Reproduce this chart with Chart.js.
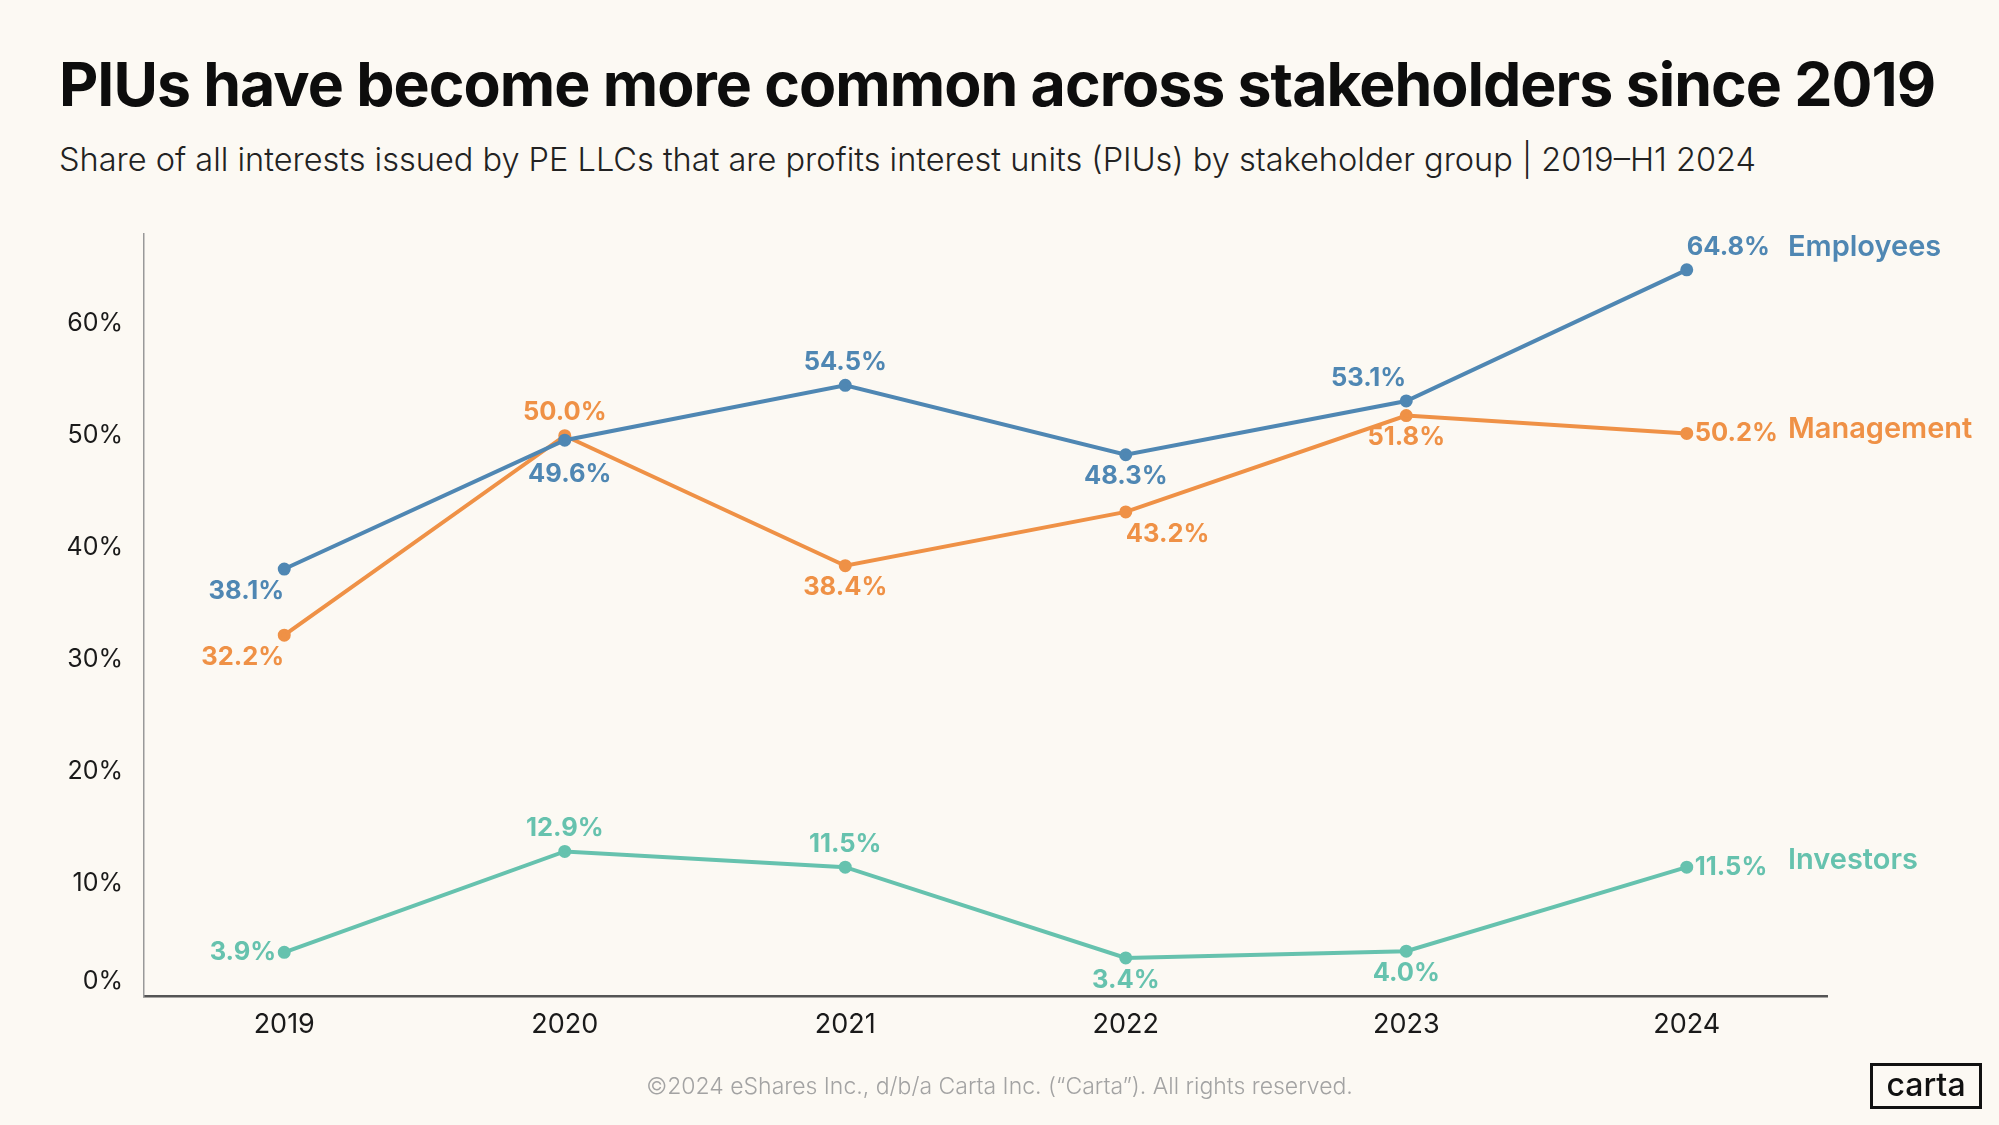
<!DOCTYPE html>
<html>
<head>
<meta charset="utf-8">
<script src="https://cdn.jsdelivr.net/npm/chart.js@4.4.1/dist/chart.umd.min.js"></script>
<style>
  html, body { margin: 0; padding: 0; background: #fcf9f3; }
  body { width: 1999px; height: 1125px; position: relative; overflow: hidden; font-family: Inter, Lato, sans-serif; }
  #title { position: absolute; left: 59px; top: 47px; font-weight: 700; font-size: 64px; color: #0d0d0d; white-space: nowrap; letter-spacing: -1px; }
  #subtitle { position: absolute; left: 59px; top: 139px; font-weight: 300; font-size: 34px; color: #222; white-space: nowrap; }
  #wrap { position: absolute; left: 0; top: 0; width: 1999px; height: 1125px; }
  #footer { position: absolute; left: 0; width: 1999px; top: 1072px; text-align: center; font-size: 23px; font-weight: 300; color: #a3a3a3; }
  #logo { position: absolute; left: 1870px; top: 1063px; width: 106px; height: 40px; border: 3.5px solid #111; text-align: center; font-size: 32px; line-height: 38px; font-weight: 500; color: #111; }
</style>
</head>
<body>
<div id="title">PIUs have become more common across stakeholders since 2019</div>
<div id="subtitle">Share of all interests issued by PE LLCs that are profits interest units (PIUs) by stakeholder group | 2019–H1 2024</div>
<div id="wrap"><canvas id="chart"></canvas></div>
<div id="footer">©2024 eShares Inc., d/b/a Carta Inc. (“Carta”). All rights reserved.</div>
<div id="logo">carta</div>
<script>
// 데이터
var years = ['2019', '2020', '2021', '2022', '2023', '2024'];
var employees = [38.1, 49.6, 54.5, 48.3, 53.1, 64.8];
var management = [32.2, 50.0, 38.4, 43.2, 51.8, 50.2];
var investors = [3.9, 12.9, 11.5, 3.4, 4.0, 11.5];
var seriesNames = ['Employees', 'Management', 'Investors'];
var yTicks = [0, 10, 20, 30, 40, 50, 60];

// 라벨 위치 (a=위, b=아래, b2=더 아래, l=왼쪽, r=오른쪽)
var labelPos = [
  ['bl', 'b2', 'a', 'b', 'al', 'ar'],
  ['bl', 'a', 'b', 'br', 'b', 'r'],
  ['l', 'a', 'a', 'b', 'b', 'r']
];
var nameDy = [-23, -4, -7];
var colors = ['#4f87b3', '#ef9146', '#66c2ae'];

// 제목 폭 맞추기
function fitWidth(id, target) {
  var el = document.getElementById(id);
  var size = parseFloat(getComputedStyle(el).fontSize);
  el.style.fontSize = (size * target / el.offsetWidth) + 'px';
}
fitWidth('title', 1880);
fitWidth('subtitle', 1697);

var valueLabels = {
  id: 'valueLabels',
  afterDatasetsDraw: function (chart) {
    var ctx = chart.ctx;
    ctx.save();
    ctx.textBaseline = 'middle';
    chart.data.datasets.forEach(function (ds, di) {
      var meta = chart.getDatasetMeta(di);
      ctx.fillStyle = ds.borderColor;
      ctx.font = '700 25.5px Inter, Lato, sans-serif';
      meta.data.forEach(function (pt, i) {
        var pos = labelPos[di][i];
        var x = pt.x, y = pt.y;
        var txt = ds.data[i].toFixed(1) + '%';
        ctx.textAlign = 'center';
        if (pos === 'b2') { y += 34; x += 5; }
        else if (pos.indexOf('a') === 0) y -= 23;
        else if (pos.indexOf('b') === 0) y += 22;
        if (pos === 'l') { ctx.textAlign = 'right'; x -= 8; }
        if (pos === 'r') { ctx.textAlign = 'left'; x += 8; }
        if (pos === 'al' || pos === 'bl') { ctx.textAlign = 'right'; }
        if (pos === 'ar' || pos === 'br') { ctx.textAlign = 'left'; }
        ctx.fillText(txt, x, y);
      });
      // 시리즈 이름
      var last = meta.data[meta.data.length - 1];
      ctx.font = '600 29px Inter, Lato, sans-serif';
      ctx.textAlign = 'left';
      ctx.fillText(ds.label, 1788, last.y + nameDy[di]);
    });
    ctx.restore();
  }
};

var chartArea = document.getElementById('chart').getContext('2d');
var myChart = new Chart(chartArea, {
  type: 'line',
  data: {
    labels: years,
    datasets: [employees, management, investors].map(function (vals, i) {
      return {
        label: seriesNames[i],
        data: vals,
        borderColor: colors[i],
        backgroundColor: colors[i],
        borderWidth: 4,
        pointRadius: 4.5,
        pointHoverRadius: 4.5,
        tension: 0,
        clip: false
      };
    })
  },
  options: {
    responsive: true,
    maintainAspectRatio: false,
    animation: false,
    layout: { padding: { left: 0, right: 172, top: 234, bottom: 0 } },
    plugins: { legend: { display: false }, tooltip: { enabled: false } },
    scales: {
      x: {
        offset: true,
        grid: { display: false },
        border: { color: '#555', width: 2.5 },
        ticks: { color: '#1a1a1a', font: { family: 'Inter, Lato, sans-serif', size: 27 }, padding: 5 },
        afterFit: function (axis) { axis.height = 129; }
      },
      y: {
        min: 0,
        max: 68,
        grid: { display: false },
        border: { color: '#999', width: 1.5 },
        afterBuildTicks: function (axis) {
          // 0% 라벨은 축선 위로 살짝 올림
          axis.ticks = yTicks.map(function (v) { return { value: v === 0 ? 1.3 : v }; });
        },
        ticks: {
          color: '#1a1a1a',
          font: { family: 'Inter, Lato, sans-serif', size: 25 },
          padding: 13,
          callback: function (v) { return Math.round(v / 10) * 10 + '%'; }
        },
        afterFit: function (axis) { axis.width = 144; }
      }
    }
  },
  plugins: [valueLabels]
});
</script>
</body>
</html>
